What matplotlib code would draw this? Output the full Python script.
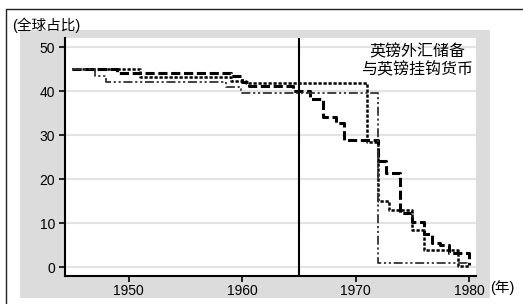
"""Sterling reserves and sterling-pegged currencies, share of world total."""

import matplotlib

matplotlib.use("Agg")
import matplotlib.pyplot as plt
from matplotlib.lines import Line2D
from matplotlib.patches import Rectangle

plt.rcParams["font.family"] = ["Liberation Sans", "Noto Sans CJK SC", "DejaVu Sans"]

# step series (value holds from each year to the next)
years_a = [1945, 1949, 1959, 1960, 1960.6, 1964.5, 1966, 1967.1, 1968.3, 1969,
           1972, 1972.7, 1973.9, 1975, 1976, 1976.7, 1977.4, 1978.2, 1980]
vals_a = [45, 44.2, 43.4, 42.2, 41.3, 40.1, 38.2, 34.2, 32.9, 28.9,
          24.2, 21.4, 12.3, 10.3, 7.6, 5.6, 5.0, 3.3, 0.5]

years_b = [1945, 1951, 1959, 1960.3, 1971, 1972, 1972.9, 1975, 1976, 1979, 1980]
vals_b = [45, 43.3, 42.4, 41.8, 28.5, 15, 13, 8.5, 3.9, 0.3, 0.3]

years_c = [1945, 1947, 1948, 1958.6, 1959.9, 1972, 1979.8]
vals_c = [45, 43.5, 42, 40.9, 39.6, 1.0, 0.2]

x_ticks = [1950, 1960, 1970, 1980]
y_ticks = [0, 10, 20, 30, 40, 50]
marker_year = 1965

W, H = 523, 304
fig = plt.figure(figsize=(W / 100, H / 100), dpi=100)


def px(x, y):
    """Pixel (from top-left) to figure fraction."""
    return x / W, 1 - y / H


# grey panel behind the chart and the page frame
x0, y0 = px(20, 298)
x1, y1 = px(490, 30)
fig.patches.append(Rectangle((x0, y0), x1 - x0, y1 - y0, transform=fig.transFigure,
                             facecolor="#dcdcdc", edgecolor="none", zorder=-2))
fx, fy = px(6, 9)
fig.lines.append(Line2D([fx, fx, 1], [0, fy, fy], transform=fig.transFigure,
                        color="#222222", lw=1.0, zorder=-1))

left, bottom = px(65, 275.7)
right, top = px(476, 38)
ax = fig.add_axes([left, bottom, right - left, top - bottom])
ax.set_zorder(1)
ax.set_facecolor("white")

ax.step(years_a, vals_a, where="post", color="black", lw=2.2, dashes=(3, 1.2))
ax.step(years_b, vals_b, where="post", color="black", lw=1.8, dashes=(1.3, 0.7))
ax.step(years_c, vals_c, where="post", color="#333333", lw=1.3,
        dashes=(5, 1.5, 1.2, 1.5, 1.2, 1.5))
ax.axvline(marker_year, color="black", lw=1.5)

ax.set_xlim(1944.4, 1980.6)
ax.set_ylim(-1.9, 52.1)
ax.set_xticks(x_ticks)
ax.set_yticks(y_ticks)
ax.grid(axis="y", color="#e3e3e3", lw=1.5)
ax.set_axisbelow(True)
for side in ("top", "right"):
    ax.spines[side].set_visible(False)
for side in ("left", "bottom"):
    ax.spines[side].set_linewidth(1.5)
ax.tick_params(direction="out", length=4, width=1.2, labelsize=10, pad=2)
ax.tick_params(axis="y", pad=3)

ax.text(0.857, 0.975, "英镑外汇储备\n与英镑挂钩货币", transform=ax.transAxes,
        ha="center", va="top", fontsize=11.5, linespacing=1.2)
tx, ty = px(12, 25)
fig.text(tx, ty, "(全球占比)", ha="left", va="center", fontsize=10.5)
tx, ty = px(490, 288)
fig.text(tx, ty, "(年)", ha="left", va="center", fontsize=10.5)

fig.savefig("out.png", dpi=100)
